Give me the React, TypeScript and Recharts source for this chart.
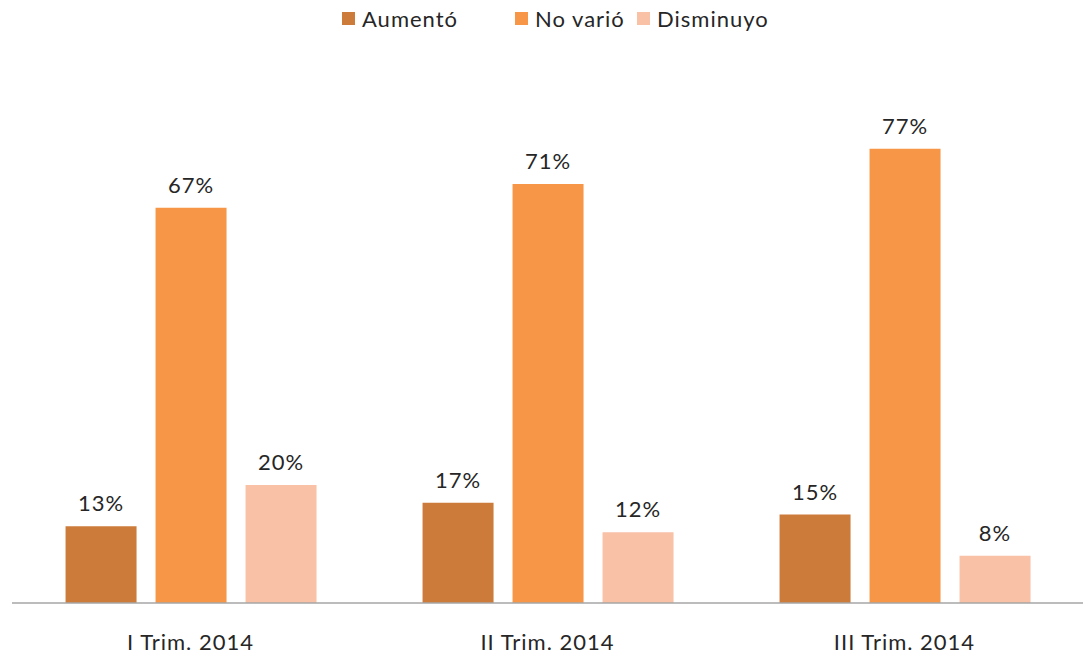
import React from "react";
import { Bar, BarChart, LabelList, Legend, XAxis, YAxis } from "recharts";

const categories = ["I Trim. 2014", "II Trim. 2014", "III Trim. 2014"];
const aumento = [13, 17, 15];
const noVario = [67, 71, 77];
const disminuyo = [20, 12, 8];

const seriesNames = ["Aumentó", "No varió", "Disminuyo"];
const seriesColors = ["#CD7B3A", "#F79646", "#F9C1A6"];
// legend slot widths, like Excel spaces them
const legendSlots = [173, 122, 140];

const data = categories.map((name, i) => ({
  name,
  aumento: aumento[i],
  noVario: noVario[i],
  disminuyo: disminuyo[i],
}));

const FONT = "Lato, 'Open Sans', sans-serif";
const textStyle = { fill: "#262626", fontSize: 22, fontFamily: FONT, letterSpacing: 1 };

const LegendContent = () => (
  <div
    style={{
      height: 36,
      display: "flex",
      alignItems: "center",
      fontFamily: FONT,
      fontSize: 22,
      letterSpacing: 1,
      color: "#262626",
      paddingLeft: 342,
    }}
  >
    {seriesNames.map((n, i) => (
      <div key={n} style={{ display: "flex", alignItems: "center", width: legendSlots[i] }}>
        <span
          style={{ width: 13, height: 13, background: seriesColors[i], display: "inline-block", marginRight: 7 }}
        />
        <span>{n}</span>
      </div>
    ))}
  </div>
);

const fmt = (v: any) => `${v}%`;

export default function App() {
  return (
    <div style={{ position: "absolute", left: 0, top: 0, width: 1083, height: 659, background: "#fff" }}>
      <BarChart
        width={1083}
        height={659}
        data={data}
        margin={{ top: 36, right: 0, bottom: 0, left: 12 }}
        barCategoryGap="15%"
        barGap={19}
      >
        <Legend verticalAlign="top" content={<LegendContent />} wrapperStyle={{ top: 0, left: 0, width: 1083 }} />
        <XAxis
          dataKey="name"
          height={56}
          tickLine={false}
          axisLine={{ stroke: "#A6A6A6", strokeWidth: 1.5 }}
          tick={textStyle}
          tickMargin={25}
          interval={0}
        />
        <YAxis hide domain={[0, 90]} />
        {["aumento", "noVario", "disminuyo"].map((k, i) => (
          <Bar key={k} dataKey={k} name={seriesNames[i]} fill={seriesColors[i]} isAnimationActive={false}>
            <LabelList dataKey={k} position="top" offset={15} formatter={fmt} style={textStyle} />
          </Bar>
        ))}
      </BarChart>
    </div>
  );
}
